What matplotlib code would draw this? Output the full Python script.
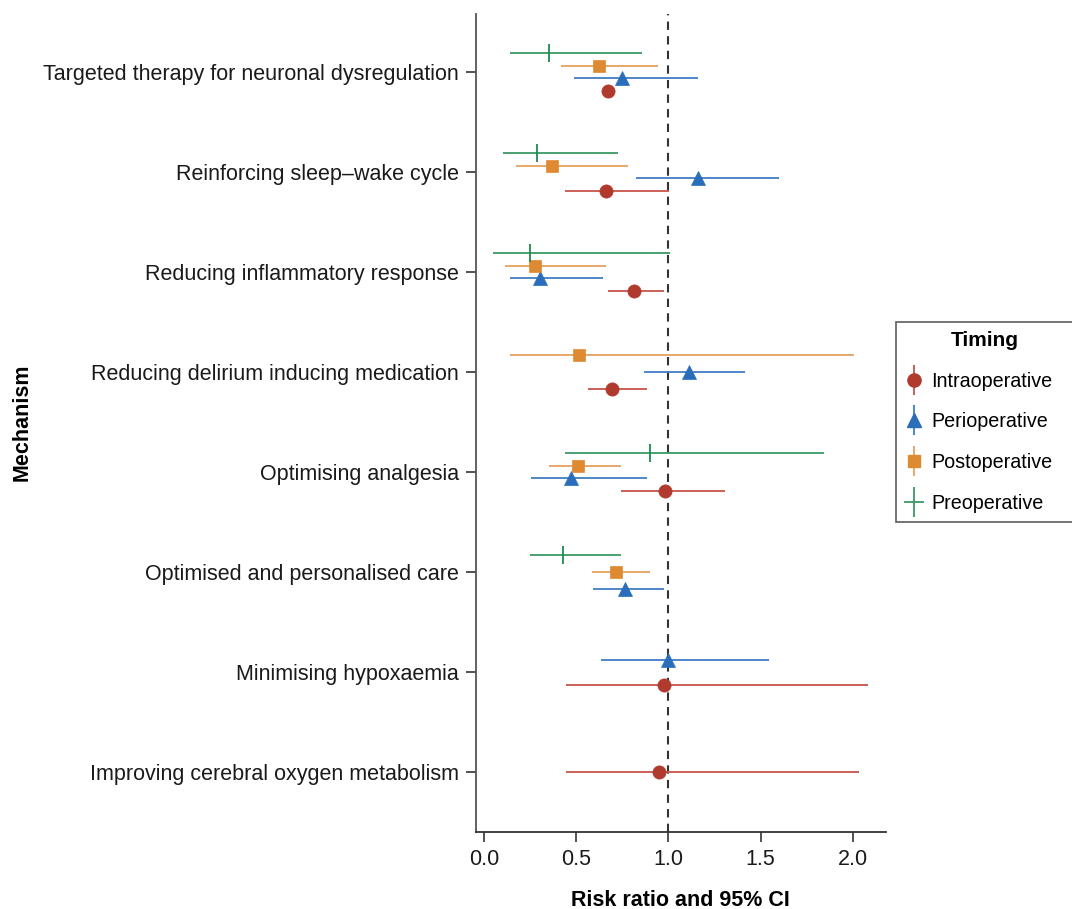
import matplotlib
matplotlib.use('Agg')
import matplotlib.pyplot as plt
from matplotlib.lines import Line2D
import numpy as np

plt.rcParams['font.family'] = ['Liberation Sans', 'DejaVu Sans']

# ── Data ──────────────────────────────────────────────────────────────────────
mechanisms = [
    'Improving cerebral oxygen metabolism',
    'Minimising hypoxaemia',
    'Optimised and personalised care',
    'Optimising analgesia',
    'Reducing delirium inducing medication',
    'Reducing inflammatory response',
    'Reinforcing sleep\u2013wake cycle',
    'Targeted therapy for neuronal dysregulation',
]
timings = ['Intraoperative', 'Perioperative', 'Postoperative', 'Preoperative']

# per timing: mechanism, estimate, lower, upper
intra_mech = [mechanisms[i] for i in [0, 1, 3, 4, 5, 6, 7]]
intra_est = [0.95, 0.975, 0.984, 0.693, 0.812, 0.662, 0.673]
intra_lo = [0.447, 0.447, 0.741, 0.562, 0.673, 0.437, 0.673]
intra_hi = [2.035, 2.085, 1.308, 0.882, 0.975, 1.005, 0.673]

peri_mech = [mechanisms[i] for i in [1, 2, 3, 4, 5, 6, 7]]
peri_est = [1.0, 0.763, 0.474, 1.110, 0.304, 1.163, 0.749]
peri_lo = [0.635, 0.593, 0.257, 0.866, 0.139, 0.825, 0.486]
peri_hi = [1.544, 0.977, 0.882, 1.418, 0.644, 1.599, 1.161]

post_mech = [mechanisms[i] for i in [2, 3, 4, 5, 6, 7]]
post_est = [0.718, 0.512, 0.517, 0.278, 0.371, 0.626]
post_lo = [0.588, 0.354, 0.139, 0.112, 0.174, 0.416]
post_hi = [0.899, 0.745, 2.009, 0.662, 0.781, 0.944]

pre_mech = [mechanisms[i] for i in [2, 3, 5, 6, 7]]
pre_est = [0.430, 0.899, 0.248, 0.286, 0.354]
pre_lo = [0.248, 0.437, 0.050, 0.103, 0.139]
pre_hi = [0.745, 1.845, 1.007, 0.727, 0.855]

series = {
    'Intraoperative': (intra_mech, intra_est, intra_lo, intra_hi),
    'Perioperative': (peri_mech, peri_est, peri_lo, peri_hi),
    'Postoperative': (post_mech, post_est, post_lo, post_hi),
    'Preoperative': (pre_mech, pre_est, pre_lo, pre_hi),
}

# ── Style ──────────────────────────────────────────────────────────────────────
COLORS = {
    'Intraoperative': '#b03a2e',
    'Perioperative': '#2a6ebb',
    'Postoperative': '#de8a32',
    'Preoperative': '#1e8a4e',
}
LINE_COLORS = {
    'Intraoperative': '#c8544a',
    'Perioperative': '#3f7dc4',
    'Postoperative': '#e6a060',
    'Preoperative': '#3a9a64',
}
MARKERS = {
    'Intraoperative': ('o', 9.5),
    'Perioperative': ('^', 10.5),
    'Postoperative': ('s', 8.5),
    'Preoperative': ('|', 13),
}
DODGE = 0.5
FS = 15.5
LEG_FS = 14.2

fig = plt.figure(figsize=(10.72, 9.09), dpi=100)
ax = fig.add_axes([0.4437, 0.0847, 0.8265 - 0.4437, 0.9846 - 0.0847])

ypos = {m: i + 1 for i, m in enumerate(mechanisms)}

# groups present per mechanism, in dodge order (bottom -> top)
present = {m: [t for t in timings if m in series[t][0]] for m in mechanisms}

for t in timings:
    mech, est, lo, hi = series[t]
    ys = []
    for m in mech:
        grp = present[m]
        n = len(grp)
        k = grp.index(t)
        off = (k - (n - 1) / 2) * DODGE / n
        ys.append(ypos[m] + off)
    ys = np.array(ys)
    ax.hlines(ys, lo, hi, color=LINE_COLORS[t], lw=1.3, zorder=2)
    mk, ms = MARKERS[t]
    ax.plot(est, ys, linestyle='none', marker=mk, markersize=ms,
            color=COLORS[t], markeredgecolor=COLORS[t],
            markeredgewidth=1.3 if mk == '|' else 0.5, zorder=3)

ax.axvline(1.0, color='#333333', lw=1.5, ls=(0, (4, 3)), zorder=1)

ax.set_xlim(-0.045, 2.18)
ax.set_ylim(0.4, 8.58)
ax.set_yticks([ypos[m] for m in mechanisms])
ax.set_yticklabels(mechanisms, fontsize=FS, color='#1a1a1a')
ax.set_xticks([0.0, 0.5, 1.0, 1.5, 2.0])
ax.set_xticklabels(['0.0', '0.5', '1.0', '1.5', '2.0'], fontsize=FS, color='#1a1a1a')
ax.tick_params(axis='both', direction='out', length=7, width=1.2, color='#333333', pad=5)

for s in ['top', 'right']:
    ax.spines[s].set_visible(False)
ax.spines['left'].set_color('#555555')
ax.spines['bottom'].set_color('#333333')
ax.spines['left'].set_linewidth(1.3)
ax.spines['bottom'].set_linewidth(1.3)

fig.text((475.7 + 886) / 2 / 1072, 1 - 900 / 909, 'Risk ratio and 95% CI',
         fontsize=FS, fontweight='bold', ha='center', va='center')
fig.text(22 / 1072, 1 - 422 / 909, 'Mechanism', rotation=90, fontsize=FS,
         fontweight='bold', ha='center', va='center')

# ── Legend ─────────────────────────────────────────────────────────────────────
handles = []
for t in timings:
    mk, ms = MARKERS[t]
    bar = Line2D([], [], linestyle='none', marker='|', markersize=21,
                 markeredgewidth=1.3, color=LINE_COLORS[t])
    if mk == '|':
        pt = Line2D([], [], linestyle='none', marker='_', markersize=14,
                    markeredgewidth=1.3, color=LINE_COLORS[t])
    else:
        pt = Line2D([], [], linestyle='none', marker=mk, markersize=ms,
                    color=COLORS[t], markeredgecolor=COLORS[t])
    handles.append((bar, pt))

leg = fig.legend(handles, timings, title='Timing', loc='upper left',
                 bbox_to_anchor=(896 / 1072, 1 - 322 / 909, 178 / 1072, 0.0),
                 mode='expand',
                 fontsize=LEG_FS, title_fontproperties={'weight': 'bold', 'size': 15},
                 frameon=True, fancybox=False, edgecolor='#333333',
                 handlelength=0.9, handletextpad=0.45, labelspacing=1.1,
                 borderpad=0.45, borderaxespad=0)
leg.get_frame().set_linewidth(1.2)

plt.savefig('out.png', dpi=100, facecolor='white')
plt.close()
